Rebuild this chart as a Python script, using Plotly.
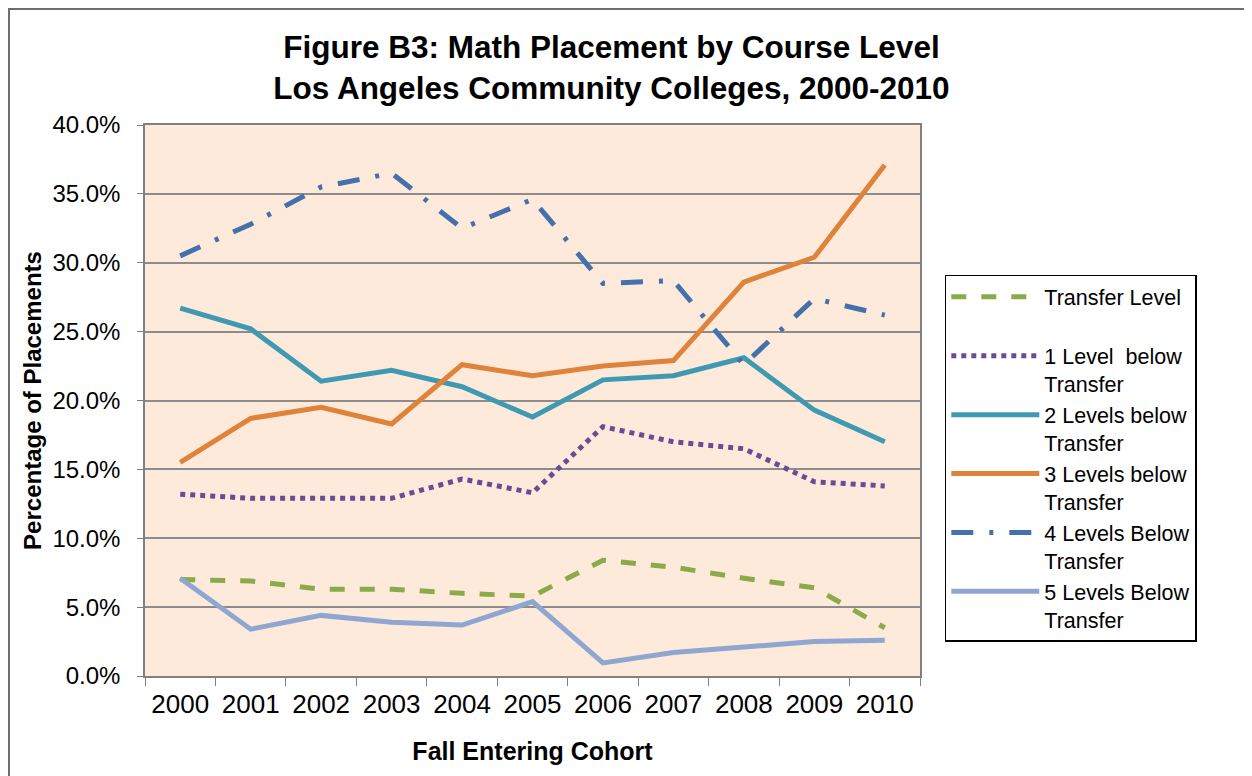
import plotly.graph_objects as go

# Fall entering cohorts
years = ["2000", "2001", "2002", "2003", "2004", "2005", "2006", "2007", "2008", "2009", "2010"]

# Percent of placements by course level
transfer_level = [7.0, 6.9, 6.3, 6.3, 6.0, 5.8, 8.4, 7.9, 7.1, 6.4, 3.5]
one_below = [13.2, 12.9, 12.9, 12.9, 14.3, 13.3, 18.1, 17.0, 16.5, 14.1, 13.8]
two_below = [26.7, 25.2, 21.4, 22.2, 21.0, 18.8, 21.5, 21.8, 23.1, 19.3, 17.0]
three_below = [15.5, 18.7, 19.5, 18.3, 22.6, 21.8, 22.5, 22.9, 28.6, 30.4, 37.1]
four_below = [30.5, 32.8, 35.5, 36.5, 32.5, 34.6, 28.5, 28.7, 22.6, 27.4, 26.2]
five_below = [7.1, 3.4, 4.4, 3.9, 3.7, 5.4, 0.95, 1.7, 2.1, 2.5, 2.6]

series = [
    ("Transfer Level<br>&nbsp;", transfer_level, "#8BAA4A", "dash"),
    ("1 Level  below<br>Transfer", one_below, "#6A4C96", "dot"),
    ("2 Levels below<br>Transfer", two_below, "#3F9AB1", "solid"),
    ("3 Levels below<br>Transfer", three_below, "#DF823A", "solid"),
    ("4 Levels Below<br>Transfer", four_below, "#4470AB", "22px,16px,4px,16px"),
    ("5 Levels Below<br>Transfer", five_below, "#8EA7D0", "solid"),
]

fig = go.Figure()
for name, vals, color, dash in series:
    fig.add_trace(go.Scatter(
        x=years, y=[v / 100 for v in vals], name=name, mode="lines",
        line=dict(color=color, width=5, dash=dash),
    ))

font = "Liberation Sans, Arial, sans-serif"

fig.update_layout(
    width=1252, height=776,
    margin=dict(l=137, r=340, t=117, b=108),
    paper_bgcolor="white",
    plot_bgcolor="#FDEADB",
    font=dict(family=font, size=23, color="black"),
    title=dict(
        text="<b>Figure B3: Math Placement by Course Level<br>Los Angeles Community Colleges, 2000-2010</b>",
        x=0.482, xanchor="center", y=0.935, yanchor="middle",
        font=dict(size=31.5, family=font),
    ),
    legend=dict(
        x=1.032, xanchor="left", y=0.728, yanchor="top",
        bgcolor="white", bordercolor="black", borderwidth=1.5,
        font=dict(size=21.5), valign="top", itemwidth=88,
    ),
    xaxis=dict(
        type="category", range=[-0.5, 10.5],
        title=dict(text="<b>Fall Entering Cohort</b>", font=dict(size=25), standoff=25),
        showgrid=False, tickson="boundaries", ticks="outside", ticklen=8,
        tickcolor="#808080", linecolor="#808080", linewidth=1.5,
        mirror=True, showline=True, ticklabelstandoff=4,
        tickfont=dict(size=26),
    ),
    yaxis=dict(
        range=[0, 0.40], dtick=0.05, tickformat=".1%",
        title=dict(text="<b>Percentage of Placements</b>", font=dict(size=24), standoff=4),
        showgrid=True, gridcolor="#8C8C8C", gridwidth=1.5,
        ticks="outside", ticklen=6, tickcolor="#808080",
        linecolor="#808080", linewidth=1.5, showline=True, mirror=True,
        ticklabelstandoff=12, tickfont=dict(size=24),
    ),
    shapes=[dict(
        type="rect", xref="paper", yref="paper",
        x0=-0.1755, x1=1.45, y0=-0.2, y1=1.2105,
        line=dict(color="#6E6E6E", width=2), layer="below",
    )],
)

fig.write_html("out.html")
